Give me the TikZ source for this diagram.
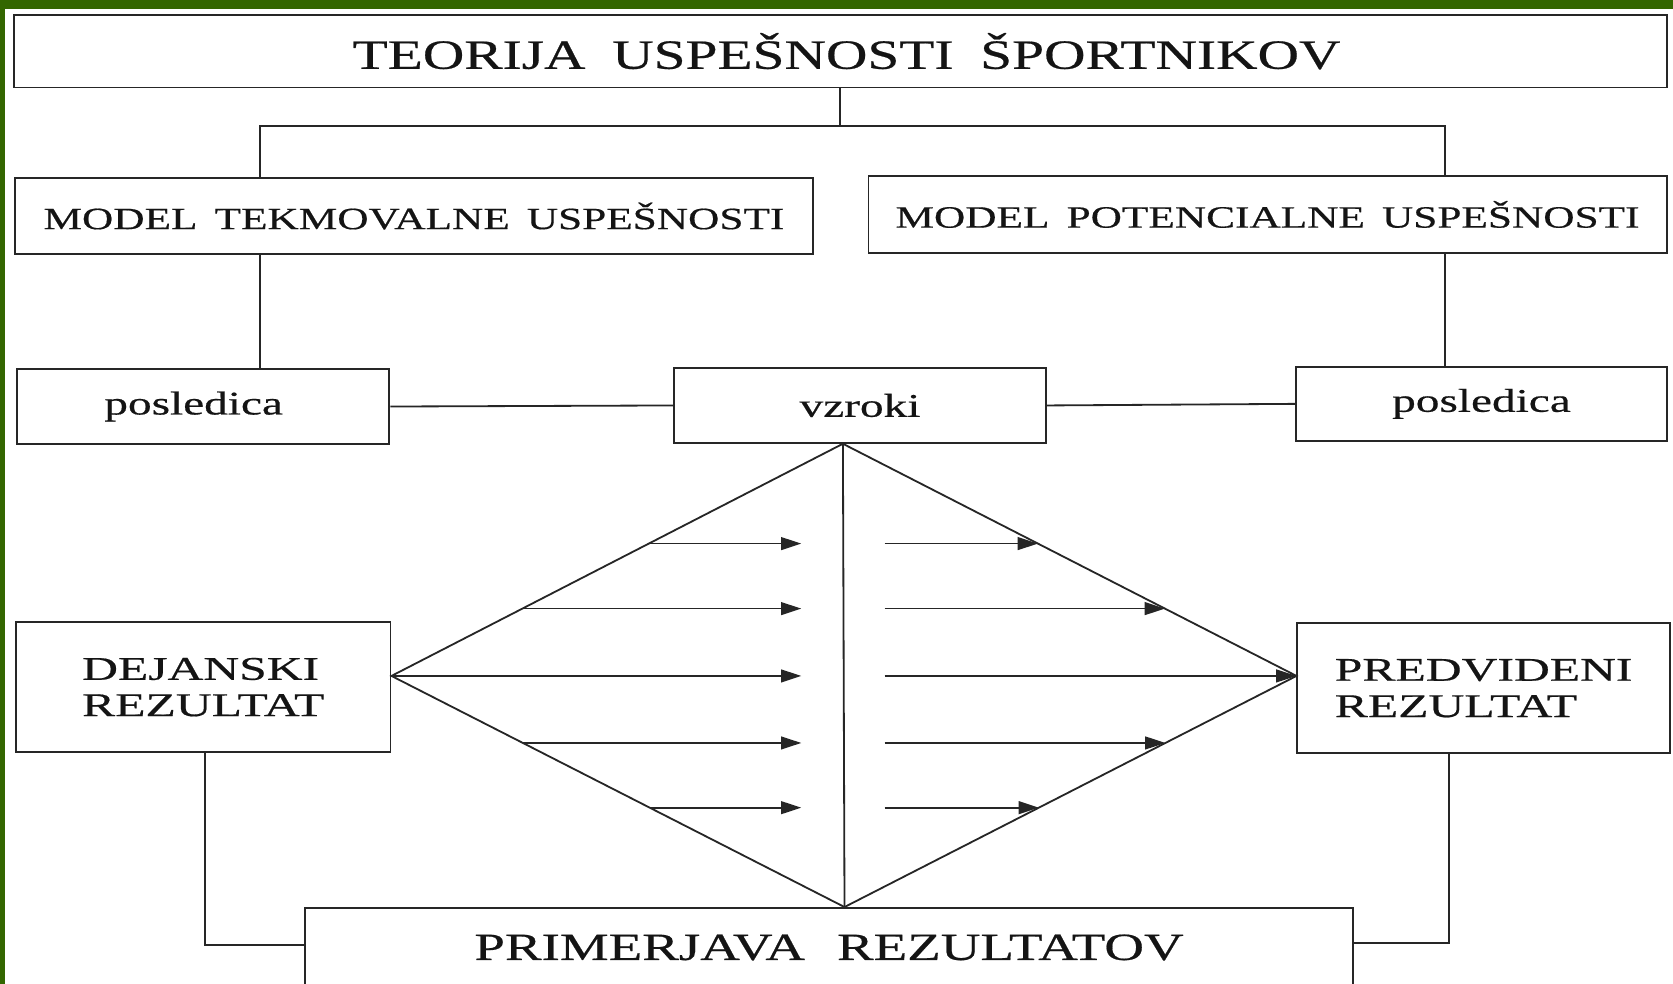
\documentclass[tikz,border=0pt]{standalone}
\usepackage{fontspec}
\setmainfont{Liberation Serif}
\newfontfamily\ftitle[FakeStretch=1.38,FakeBold=0.5]{Liberation Serif}
\newfontfamily\fmodel[FakeStretch=1.40,FakeBold=0.5]{Liberation Serif}
\newfontfamily\flow[FakeStretch=1.43,FakeBold=0.5]{Liberation Serif}
\newfontfamily\fres[FakeStretch=1.50,FakeBold=0.5]{Liberation Serif}
\newfontfamily\fprim[FakeStretch=1.43,FakeBold=0.5]{Liberation Serif}
\usetikzlibrary{arrows.meta,calc}
\definecolor{framegreen}{HTML}{336600}
\definecolor{linecol}{HTML}{262626}
\tikzset{
  box/.style={draw=linecol, line width=1.8pt, inner sep=0pt, text=black!92},
  conn/.style={draw=linecol, line width=1.7pt},
  arr/.style={draw=linecol, line width=1.6pt, -{Triangle[length=19pt,width=12pt]}},
}
\begin{document}
\begin{tikzpicture}[x=1pt,y=-1pt]
\useasboundingbox (0,0) rectangle (1568,922);
\clip (0,0) rectangle (1568,922);
\fill[white] (0,0) rectangle (1568,922);
\fill[framegreen] (0,0) rectangle (1568,8.5);
\fill[framegreen] (0,0) rectangle (4.5,922);

% boxes
\node[box, minimum width=1549pt, minimum height=68pt, font=\ftitle\fontsize{39}{42}\selectfont]
  (title) at (787.5,48) {\hspace*{12pt}TEORIJA\hspace{25pt}USPEŠNOSTI\hspace{25pt}ŠPORTNIKOV};
\node[box, minimum width=748pt, minimum height=71pt, font=\fmodel\fontsize{29}{32}\selectfont]
  (mL) at (388,202.5) {MODEL\hspace{16pt}TEKMOVALNE\hspace{16pt}USPEŠNOSTI};
\node[box, minimum width=748pt, minimum height=72pt, font=\fmodel\fontsize{29}{32}\selectfont]
  (mR) at (1188,201) {MODEL\hspace{16pt}POTENCIALNE\hspace{16pt}USPEŠNOSTI};
\node[box, minimum width=349pt, minimum height=70pt, font=\flow\fontsize{31}{34}\selectfont]
  (posL) at (190.5,381) {posledica\hspace*{18pt}};
\node[box, minimum width=348pt, minimum height=70pt, font=\flow\fontsize{31}{34}\selectfont]
  (vz) at (806,380) {vzroki};
\node[box, minimum width=347pt, minimum height=69pt, font=\flow\fontsize{31}{34}\selectfont]
  (posR) at (1388.5,378.5) {posledica};
\node[box, minimum width=351pt, minimum height=122pt, align=left, font=\fres\fontsize{31}{34}\selectfont]
  (dej) at (190.5,644) {DEJANSKI\\REZULTAT};
\node[box, minimum width=349pt, minimum height=122pt, align=left, font=\fres\fontsize{31}{34}\selectfont]
  (pred) at (1390.5,645) {PREDVIDENI\\REZULTAT};
\node[box, minimum width=982pt, minimum height=74pt, font=\fprim\fontsize{36}{39}\selectfont]
  (prim) at (777,888) {PRIMERJAVA\hspace{30pt}REZULTATOV};

% helper coordinates
\coordinate (jL) at (244,118);
\coordinate (jR) at (1354,118);
\coordinate (bL) at (192,886);
\coordinate (bR) at (1358,884);
\coordinate (midrow) at (0,633.5);
\coordinate (dtx) at (790,0);
\coordinate (dbx) at (791.5,0);
\coordinate (tipx) at (751,0);
\coordinate (startx) at (829,0);

% tree connectors
\draw[conn] (title.south) -- (title.south |- jL);
\draw[conn] (jL |- mL.north) -- (jL) -- (jR) -- (jR |- mR.north);
\draw[conn] (jL |- mL.south) -- (jL |- posL.north);
\draw[conn] (jR |- mR.south) -- (jR |- posR.north);
\draw[conn] (posL.east) -- (vz.west);
\draw[conn] (vz.east) -- (posR.west);
\draw[conn] (dej.south -| bL) |- (prim.west |- bL);
\draw[conn] (pred.south -| bR) |- (prim.east |- bR);

% diamond
\coordinate (dt) at (vz.south -| dtx);
\coordinate (db) at (prim.north -| dbx);
\coordinate (dl) at (dej.east |- midrow);
\coordinate (dr) at (pred.west |- midrow);
\draw[conn, line join=miter] (dt) -- (dl) -- (db) -- (dr) -- cycle;
\draw[conn] (dt) -- (db);

% left arrows
\coordinate (L1) at ($(dl)!0.57!(dt)$);
\coordinate (L2) at ($(dl)!0.29!(dt)$);
\coordinate (L4) at ($(dl)!0.29!(db)$);
\coordinate (L5) at ($(dl)!0.57!(db)$);
\draw[arr] (L1) -- (L1 -| tipx);
\draw[arr] (L2) -- (L2 -| tipx);
\draw[arr] (dl) -- (dl -| tipx);
\draw[arr] (L4) -- (L4 -| tipx);
\draw[arr] (L5) -- (L5 -| tipx);

% right arrows
\coordinate (R1) at ($(dr)!0.57!(dt)$);
\coordinate (R2) at ($(dr)!0.29!(dt)$);
\coordinate (R4) at ($(dr)!0.29!(db)$);
\coordinate (R5) at ($(dr)!0.57!(db)$);
\draw[arr] (R1 -| startx) -- (R1);
\draw[arr] (R2 -| startx) -- (R2);
\draw[arr] (dr -| startx) -- (dr);
\draw[arr] (R4 -| startx) -- (R4);
\draw[arr] (R5 -| startx) -- (R5);
\end{tikzpicture}
\end{document}
